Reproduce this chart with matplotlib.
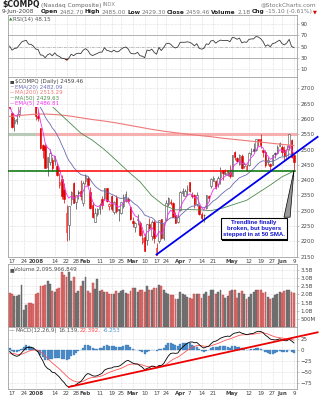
import numpy as np
import pandas as pd
import matplotlib
matplotlib.use("Agg")
import matplotlib.pyplot as plt
import matplotlib.patheffects as pe
from matplotlib.patches import Polygon

W, H = 322, 400

holidays = ["2007-12-25", "2008-01-01", "2008-01-21", "2008-02-18", "2008-03-21", "2008-05-26"]
dates = pd.bdate_range("2007-12-14", "2008-06-09", freq="C", holidays=holidays)

prior_close = 2668.49

opens = [2652, 2620, 2587, 2594, 2615, 2662, 2697, 2705, 2716, 2690, 2665,
         2653, 2611, 2571, 2514, 2512, 2443, 2459, 2466, 2462, 2447, 2384, 2405, 2368, 2230, 2252, 2338, 2391, 2330, 2360, 2366, 2325,
         2398, 2407, 2361, 2319, 2264, 2289, 2307, 2339, 2343, 2373, 2317, 2348, 2297, 2341, 2305, 2293, 2314, 2331, 2339, 2313,
         2268, 2247, 2270, 2260, 2198, 2214, 2206, 2258, 2218, 2263, 2155, 2202, 2272, 2211, 2269, 2321, 2330, 2326, 2286, 2262,
         2302, 2359, 2349, 2371, 2393, 2352, 2351, 2323, 2316, 2289, 2285, 2308, 2347, 2380, 2397, 2398, 2388, 2409, 2432, 2421, 2418, 2427,
         2415, 2493, 2471, 2454, 2478, 2447, 2432, 2450, 2494, 2502, 2499, 2535, 2535, 2497, 2492, 2458, 2452, 2449, 2488, 2489, 2513,
         2508, 2497, 2472, 2510, 2530, 2482.70]
highs = [2657, 2624, 2605, 2615, 2641, 2692, 2714, 2728, 2722, 2692, 2671,
         2661, 2626, 2571, 2519, 2521, 2475, 2503, 2475, 2479, 2456, 2424, 2418, 2390, 2320, 2317, 2366, 2394, 2350, 2367, 2402, 2398,
         2419, 2412, 2378, 2328, 2308, 2310, 2325, 2348, 2376, 2376, 2327, 2350, 2331, 2352, 2306, 2330, 2356, 2364, 2346, 2314,
         2280, 2263, 2289, 2267, 2236, 2225, 2256, 2276, 2270, 2270, 2195, 2269, 2273, 2260, 2335, 2345, 2338, 2330, 2296, 2291,
         2363, 2375, 2371, 2384, 2394, 2360, 2355, 2360, 2321, 2296, 2288, 2351, 2353, 2406, 2414, 2402, 2415, 2443, 2432, 2436, 2431, 2451,
         2481, 2496, 2475, 2487, 2485, 2460, 2452, 2492, 2505, 2522, 2534, 2536, 2551, 2500, 2500, 2475, 2456, 2487, 2491, 2514, 2524,
         2514, 2513, 2514, 2550, 2536, 2485.00]
lows = [2631, 2572, 2560, 2583, 2606, 2656, 2696, 2700, 2676, 2656, 2652,
        2597, 2592, 2502, 2471, 2439, 2413, 2450, 2430, 2450, 2413, 2376, 2338, 2325, 2202, 2203, 2318, 2324, 2306, 2338, 2335, 2317,
        2386, 2380, 2306, 2277, 2263, 2282, 2288, 2307, 2336, 2329, 2303, 2300, 2291, 2294, 2265, 2288, 2310, 2330, 2325, 2270,
        2248, 2232, 2254, 2219, 2193, 2169, 2189, 2239, 2205, 2196, 2155, 2196, 2209, 2205, 2268, 2317, 2318, 2280, 2260, 2261,
        2299, 2349, 2347, 2352, 2362, 2343, 2309, 2317, 2286, 2266, 2262, 2307, 2333, 2376, 2396, 2370, 2379, 2388, 2400, 2418, 2415, 2407,
        2413, 2466, 2460, 2449, 2436, 2439, 2430, 2447, 2483, 2492, 2494, 2512, 2505, 2477, 2443, 2448, 2432, 2448, 2473, 2486, 2510,
        2478, 2467, 2472, 2500, 2474, 2429.30]
closes = [2635.5, 2574.5, 2596.0, 2601.0, 2640.9, 2692.0, 2713.5, 2724.4, 2676.8, 2674.5, 2652.3,
          2609.6, 2602.7, 2504.7, 2499.5, 2440.5, 2474.6, 2488.5, 2439.9, 2478.3, 2417.6, 2394.6, 2346.9, 2340.0, 2292.3, 2316.4, 2360.9, 2326.2, 2349.9, 2358.1, 2349.0, 2389.9,
          2413.4, 2382.9, 2309.6, 2278.8, 2293.0, 2304.9, 2320.1, 2320.0, 2373.9, 2332.5, 2321.8, 2306.2, 2327.1, 2299.8, 2303.4, 2327.5, 2345.0, 2353.8, 2331.6, 2271.5,
          2258.6, 2260.3, 2272.8, 2220.5, 2212.5, 2169.3, 2255.8, 2243.9, 2263.6, 2212.5, 2177.0, 2268.3, 2210.0, 2258.1, 2326.8, 2341.1, 2324.4, 2280.8, 2261.2, 2279.1,
          2362.8, 2363.3, 2363.4, 2371.0, 2364.8, 2348.8, 2322.1, 2351.7, 2290.2, 2275.8, 2286.0, 2350.1, 2341.8, 2403.0, 2408.0, 2376.9, 2406.0, 2428.9, 2422.9, 2424.4, 2426.1, 2412.8,
          2480.7, 2476.9, 2464.1, 2483.3, 2438.5, 2451.2, 2445.5, 2488.5, 2495.1, 2496.7, 2533.7, 2528.9, 2516.1, 2492.3, 2448.3, 2464.6, 2444.7, 2481.2, 2486.7, 2508.3, 2522.7,
          2491.5, 2480.5, 2503.1, 2549.9, 2474.56, 2459.46]

# volume in billions of shares
volume = [2.10, 2.00, 1.90, 1.90, 1.95, 2.55, 1.05, 1.35, 1.45, 1.45, 1.40,
          2.00, 2.10, 2.50, 2.50, 2.55, 2.85, 2.65, 2.20, 2.15, 2.35, 2.40, 3.35, 3.20, 3.10, 3.35, 2.80, 3.05, 2.10, 2.20, 2.50, 2.80,
          3.05, 2.20, 2.10, 2.70, 2.35, 2.95, 2.20, 2.25, 2.15, 2.15, 2.05, 2.00, 2.05, 2.20, 2.10, 2.20, 2.25, 2.10, 2.00, 2.20,
          2.40, 2.40, 2.15, 2.25, 2.30, 2.15, 2.50, 2.30, 2.25, 2.40, 2.40, 2.60, 2.50, 2.30, 2.10, 2.00, 1.95, 1.95, 1.75, 1.75,
          2.15, 2.00, 1.95, 1.85, 1.80, 1.75, 2.05, 2.00, 2.05, 1.80, 2.00, 2.15, 1.90, 2.25, 2.25, 2.05, 2.15, 2.30, 1.95, 1.80, 1.90, 2.20,
          2.30, 2.25, 1.80, 2.10, 2.20, 2.05, 1.75, 1.85, 2.05, 2.15, 2.25, 2.30, 2.25, 2.10, 2.15, 1.85, 1.70, 1.80, 1.95, 2.05, 2.15,
          2.10, 2.20, 2.25, 2.25, 2.15, 2.095966849]

ema5 = [2645, 2621, 2613, 2609, 2620, 2644, 2667, 2686, 2683, 2680, 2671,
        2651, 2635, 2592, 2561, 2521, 2506, 2500, 2480, 2479, 2459, 2438, 2408, 2385, 2354, 2341, 2348, 2341, 2344, 2349, 2349, 2363,
        2380, 2381, 2357, 2331, 2318, 2314, 2316, 2317, 2336, 2335, 2331, 2323, 2324, 2316, 2312, 2317, 2326, 2335, 2334, 2313,
        2295, 2283, 2280, 2260, 2244, 2219, 2231, 2235, 2245, 2234, 2215, 2233, 2225, 2236, 2266, 2291, 2302, 2295, 2284, 2282,
        2309, 2327, 2339, 2350, 2355, 2353, 2343, 2346, 2327, 2310, 2302, 2318, 2326, 2352, 2371, 2373, 2384, 2399, 2407, 2413, 2417, 2416,
        2438, 2451, 2455, 2464, 2455, 2454, 2451, 2463, 2474, 2482, 2499, 2509, 2511, 2505, 2486, 2479, 2468, 2472, 2477, 2487, 2499,
        2497, 2491, 2495, 2513, 2500, 2486.81]
ema20 = [2657.6, 2649.6, 2644.5, 2640.4, 2640.5, 2645.4, 2651.9, 2658.8, 2660.5, 2661.8, 2660.9,
         2656.1, 2651.0, 2637.1, 2624.0, 2606.6, 2594.1, 2584.1, 2570.4, 2561.6, 2547.9, 2533.3, 2515.6, 2498.9, 2479.2, 2463.7, 2453.9, 2441.7, 2433.0, 2425.9, 2418.6, 2415.9,
         2415.6, 2412.5, 2402.7, 2390.9, 2381.6, 2374.3, 2369.1, 2364.4, 2365.3, 2362.2, 2358.4, 2353.4, 2350.9, 2346.1, 2342.0, 2340.6, 2341.0, 2342.2, 2341.2, 2334.5,
         2327.3, 2320.9, 2316.3, 2307.2, 2298.1, 2285.8, 2283.0, 2279.3, 2277.8, 2271.5, 2262.5, 2263.0, 2258.0, 2258.0, 2264.6, 2271.9, 2276.8, 2277.2, 2275.7, 2276.0,
         2284.3, 2291.8, 2298.6, 2305.5, 2311.2, 2314.8, 2315.5, 2319.0, 2316.2, 2312.4, 2309.9, 2313.7, 2316.4, 2324.6, 2332.5, 2336.7, 2343.3, 2351.5, 2358.3, 2364.6, 2370.4, 2374.5,
         2384.6, 2393.4, 2400.1, 2408.0, 2410.9, 2414.7, 2417.7, 2424.4, 2431.1, 2437.4, 2446.6, 2454.4, 2460.3, 2463.3, 2461.8, 2462.1, 2460.5, 2462.5, 2464.8, 2468.9, 2474.1,
         2475.8, 2476.2, 2478.7, 2485.5, 2484.5, 2482.09]

# simple averages, one reading every fifth session
ma_days = list(range(0, 121, 5))
ma50 = [2712, 2700, 2688, 2662, 2626, 2590, 2554, 2530, 2500, 2465, 2428.5, 2395, 2349,
        2318.5, 2303, 2304, 2303, 2300.5, 2309, 2321.7, 2334, 2359, 2384, 2411, 2429.63]
ma200 = [2608, 2612, 2615, 2616, 2614, 2610, 2604, 2598, 2593, 2587, 2580, 2573, 2566,
         2560, 2555, 2550, 2546, 2542, 2537, 2533, 2529, 2525, 2521, 2517, 2513.29]

rsi = [50.7, 43.7, 46.6, 47.3, 52.3, 57.9, 60.0, 61.0, 54.3, 53.9, 50.9,
       45.6, 44.8, 35.1, 34.6, 30.2, 35.4, 37.5, 33.5, 38.9, 34.2, 32.5, 29.3, 28.9, 26.0, 29.8, 36.4, 33.7, 37.1, 38.3, 37.4, 43.4,
       46.4, 43.2, 36.4, 34.0, 36.0, 37.8, 40.1, 40.1, 48.0, 43.3, 42.2, 40.4, 43.7, 40.6, 41.1, 45.1, 47.9, 49.3, 46.0, 38.4,
       37.1, 37.2, 39.8, 33.8, 32.9, 30.3, 43.9, 42.6, 45.5, 39.8, 36.4, 48.5, 42.9, 48.2, 54.8, 56.0, 54.1, 49.5, 47.5, 49.5,
       57.6, 57.6, 57.6, 58.4, 57.5, 55.1, 51.3, 55.1, 47.0, 45.4, 46.8, 54.8, 53.7, 60.2, 60.7, 56.1, 59.2, 61.5, 60.6, 60.7, 60.9, 58.5,
       66.2, 65.4, 62.9, 65.0, 56.6, 58.3, 57.4, 62.7, 63.5, 63.7, 68.0, 66.9, 63.8, 58.6, 50.4, 53.2, 49.7, 55.3, 56.2, 59.2, 61.3,
       55.1, 52.9, 56.5, 62.8, 50.3, 48.15]

macd = [-2.9, -9.2, -12.3, -14.2, -12.3, -6.6, -0.4, 5.4, 6.0, 6.2, 4.6,
        -0.1, -4.3, -15.4, -24.4, -35.8, -41.6, -44.6, -50.3, -51.2, -56.0, -61.0, -68.1, -73.4, -80.6, -83.4, -81.1, -81.1, -78.2, -74.5, -71.4, -64.9,
        -57.2, -53.0, -54.9, -58.2, -59.0, -58.0, -55.3, -52.6, -45.6, -42.8, -41.1, -40.6, -38.0, -37.7, -36.8, -33.8, -29.6, -25.2, -23.3, -26.4,
        -29.5, -31.4, -31.6, -35.5, -38.9, -44.5, -41.5, -39.6, -36.1, -37.0, -40.1, -34.8, -34.9, -30.8, -21.7, -13.2, -7.8, -6.8, -7.6, -6.7,
        0.8, 6.7, 11.3, 15.3, 17.8, 18.3, 16.3, 17.0, 12.4, 7.5, 4.4, 7.0, 8.4, 14.2, 18.9, 20.0, 22.9, 26.7, 28.9, 30.4, 31.4, 30.8,
        35.4, 38.3, 39.1, 40.8, 38.0, 36.5, 34.5, 35.9, 37.1, 37.8, 40.8, 42.3, 41.9, 39.3, 33.3, 29.6, 24.7, 23.5, 22.7, 23.6, 25.2,
        23.7, 21.3, 20.9, 24.2, 20.5, 16.139]
signal = [-7.0, -7.4, -8.4, -9.6, -10.1, -9.4, -7.6, -5.0, -2.8, -1.0, 0.1,
          0.1, -0.8, -3.7, -7.8, -13.4, -19.0, -24.1, -29.3, -33.7, -38.2, -42.8, -47.9, -53.0, -58.5, -63.5, -67.0, -69.8, -71.5, -72.1, -72.0, -70.6,
          -67.9, -64.9, -62.9, -62.0, -61.4, -60.7, -59.6, -58.2, -55.7, -53.1, -50.7, -48.7, -46.6, -44.8, -43.2, -41.3, -39.0, -36.2, -33.6, -32.2,
          -31.7, -31.6, -31.6, -32.4, -33.7, -35.9, -37.0, -37.5, -37.2, -37.2, -37.8, -37.2, -36.7, -35.5, -32.7, -28.8, -24.6, -21.0, -18.3, -16.0,
          -12.6, -8.7, -4.7, -0.7, 3.0, 6.1, 8.1, 9.9, 10.4, 9.8, 8.7, 8.4, 8.4, 9.6, 11.5, 13.2, 15.1, 17.4, 19.7, 21.8, 23.7, 25.1,
          27.2, 29.4, 31.3, 33.2, 34.2, 34.7, 34.7, 34.9, 35.3, 35.8, 36.8, 37.9, 38.7, 38.8, 37.7, 36.1, 33.8, 31.7, 29.9, 28.6, 27.9,
          27.1, 25.9, 24.9, 24.8, 23.9, 22.392]

ticks = [("2007-12-17", "17"), ("2007-12-24", "24"), ("2008-01-02", "2008"), ("2008-01-14", "14"),
         ("2008-01-22", "22"), ("2008-01-28", "28"), ("2008-02-01", "Feb"), ("2008-02-11", "11"),
         ("2008-02-19", "19"), ("2008-02-25", "25"), ("2008-03-03", "Mar"), ("2008-03-10", "10"),
         ("2008-03-17", "17"), ("2008-03-24", "24"), ("2008-04-01", "Apr"), ("2008-04-07", "7"),
         ("2008-04-14", "14"), ("2008-04-21", "21"), ("2008-05-01", "May"), ("2008-05-12", "12"),
         ("2008-05-19", "19"), ("2008-05-27", "27"), ("2008-06-02", "Jun"), ("2008-06-09", "9")]
month_labels = {"2008", "Feb", "Mar", "Apr", "May", "Jun"}

o = np.array(opens, float)
h = np.array(highs, float)
l = np.array(lows, float)
c = np.array(closes, float)
x = np.arange(len(dates))
day_of = {d.strftime("%Y-%m-%d"): i for i, d in enumerate(dates)}
tick_pos = [day_of[d] for d, _ in ticks]
tick_lab = [t for _, t in ticks]

RED = "#e00000"
UPC = "#444444"

fig = plt.figure(figsize=(W / 100, H / 100), dpi=100)
fig.patch.set_facecolor("white")


def panel(top, bottom, xlabels=False):
    ax = fig.add_axes([8 / W, 1 - bottom / H, 289 / W, (bottom - top) / H])
    ax.set_xlim(-0.7, len(x) + 0.3)
    for sp in ax.spines.values():
        sp.set_color("#a0a0a0")
        sp.set_linewidth(0.6)
    ax.yaxis.tick_right()
    ax.tick_params(axis="y", labelsize=4, colors="#a0a0a0", labelcolor="#444444",
                   length=1.5, width=0.4, pad=1)
    ax.tick_params(axis="x", labelsize=4, labelcolor="#444444", length=0, pad=1.5)
    ax.set_xticks(tick_pos)
    if xlabels:
        ax.set_xticklabels(tick_lab)
        for t in ax.get_xticklabels():
            if t.get_text() in month_labels:
                t.set_fontweight("bold")
    else:
        ax.set_xticklabels([])
    ax.grid(True, color="#c4c4c4", linestyle=(0, (1, 1.5)), linewidth=0.4)
    ax.set_axisbelow(True)
    return ax


def px_text(px, py, txt, **kw):
    return fig.text(px / W, 1 - py / H, txt, va="center", **kw)


def chain(px, py, parts, gap=1.2):
    rend = fig.canvas.get_renderer()
    for txt, kw in parts:
        t = px_text(px, py, txt, ha="left", **kw)
        px += t.get_window_extent(renderer=rend).width + gap


# header
chain(2, 5, [("$COMPQ", dict(fontsize=5.6, fontweight="bold", color="#222222")),
             ("(Nasdaq Composite)", dict(fontsize=4.2, color="#666666")),
             ("INDX", dict(fontsize=3.8, color="#888888"))])
px_text(316, 5, "@StockCharts.com", ha="right", fontsize=4.2, color="#777777")
chg = c[-1] - c[-2]
chain(2, 12, [(dates[-1].strftime("%-d-%b-%Y"), dict(fontsize=4.2, color="#444444")),
              ("  ", dict(fontsize=4.2)),
              ("Open", dict(fontsize=4.2, fontweight="bold", color="#222222")),
              (f"{o[-1]:.2f}", dict(fontsize=4.2, color="#777777")),
              ("High", dict(fontsize=4.2, fontweight="bold", color="#222222")),
              (f"{h[-1]:.2f}", dict(fontsize=4.2, color="#777777")),
              ("Low", dict(fontsize=4.2, fontweight="bold", color="#222222")),
              (f"{l[-1]:.2f}", dict(fontsize=4.2, color="#777777")),
              ("Close", dict(fontsize=4.2, fontweight="bold", color="#222222")),
              (f"{c[-1]:.2f}", dict(fontsize=4.2, color="#777777")),
              ("Volume", dict(fontsize=4.2, fontweight="bold", color="#222222")),
              (f"{volume[-1]:.1f}B", dict(fontsize=4.2, color="#777777")),
              ("Chg", dict(fontsize=4.2, fontweight="bold", color="#222222")),
              (f"{chg:.2f} ({chg / c[-2] * 100:.2f}%)", dict(fontsize=4.2, color="#777777")),
              ("▼", dict(fontsize=3.6, color=RED))])

# RSI panel
ax_r = panel(15, 77)
r = np.array(rsi)
ax_r.set_ylim(-4, 106)
ax_r.set_yticks([10, 30, 50, 70, 90])
ax_r.axhline(70, color="#a8a8a8", lw=0.6)
ax_r.axhline(30, color="#a8a8a8", lw=0.6)
ax_r.axhline(50, color="#a8a8a8", lw=0.5, ls=(0, (4, 1.5, 1, 1.5)))
ax_r.fill_between(x, r, 30, where=r < 30, interpolate=True, color=RED, lw=0)
ax_r.plot(x, r, color="#3a3a3a", lw=0.6)
ax_r.text(0.004, 0.955, "▲", transform=ax_r.transAxes, fontsize=3.2, color="#2e8b2e", va="top")
ax_r.text(0.018, 0.96, f"RSI(14) {rsi[-1]:.2f}", transform=ax_r.transAxes, fontsize=4,
          color="#555555", va="top")

# price panel
ax_p = panel(77, 257, xlabels=True)
ax_p.set_ylim(2149, 2737)
ax_p.set_yticks(np.arange(2150, 2701, 50))
ax_p.axhline(2550, xmin=0, xmax=12.4 / 122, color="#b8cbb8", lw=2.2, zorder=2)
ax_p.axhline(2550, xmin=12.4 / 122, xmax=1, color="#f6b0b0", lw=2.2, zorder=2)

prev = np.r_[prior_close, c[:-1]]
edge = np.where(c >= prev, UPC, RED)
face = np.where(c < o, edge, "white")
lo_b = np.minimum(o, c)
hi_b = np.maximum(o, c)
ax_p.vlines(x, l, h, colors=edge, lw=0.5, zorder=3)
ax_p.bar(x, np.maximum(hi_b - lo_b, 1.0), bottom=lo_b, width=0.62, color=face,
         edgecolor=edge, linewidth=0.4, zorder=4)

ax_p.plot(ma_days, ma200, color="#f07878", lw=0.8, zorder=5)
ax_p.plot(ma_days, ma50, color="#4e8a4e", lw=0.6, zorder=5)
ax_p.plot(x, ema20, color="#6b6bb0", lw=0.6, zorder=5)
ax_p.plot(x, ema5, color="#f030f0", lw=0.6, zorder=5)

# support at the 50-day average and the broken trendline
ax_p.plot([-0.7, 21], [2430, 2430], color="#007000", lw=1.1, zorder=6)
ax_p.plot([21, 92], [2430, 2430], color="#ff0000", lw=1.1, zorder=6)
ax_p.plot([92, 120.6], [2430, 2430], color="#007000", lw=1.1, zorder=6)
ax_p.plot([62, 130], [2157, 2541.5], color="#0000ee", lw=1.3, zorder=6, clip_on=False)

ax_p.add_patch(Polygon([(115.8, 2279), (118.4, 2279), (120, 2431)], closed=True,
                       facecolor="#999999", edgecolor="black", lw=0.5, zorder=7))
note = ax_p.text(103.2, 2241, "Trendline finally\nbroken, but buyers\nstepped in at 50 SMA.",
                 ha="center", va="center", fontsize=4.3, fontweight="bold", color="#1010d0",
                 family="Liberation Sans", linespacing=1.25, zorder=8,
                 bbox=dict(boxstyle="square,pad=0.35", facecolor="white", edgecolor="black", lw=0.8))
note.get_bbox_patch().set_path_effects([pe.SimplePatchShadow(offset=(0.9, -0.9), shadow_rgbFace="black",
                                                             alpha=1.0), pe.Normal()])

legend = [("■", f"$COMPQ (Daily) {c[-1]:.2f}", "#444444"),
          ("—", f"EMA(20) {ema20[-1]:.2f}", "#6b6bb0"),
          ("—", f"MA(200) {ma200[-1]:.2f}", "#f07878"),
          ("—", f"MA(50) {ma50[-1]:.2f}", "#4e8a4e"),
          ("—", f"EMA(5) {ema5[-1]:.2f}", "#f030f0")]
for k, (mark, lab, col) in enumerate(legend):
    yy = 1 - (4.5 + 5.6 * k) / 180
    ax_p.text(0.006, yy, mark, transform=ax_p.transAxes, fontsize=3.6, color=col, va="center",
              zorder=9, bbox=dict(facecolor="white", edgecolor="none", pad=0.4))
    ax_p.text(0.024, yy, lab, transform=ax_p.transAxes, fontsize=4, color=col, va="center",
              zorder=9, bbox=dict(facecolor="white", edgecolor="none", pad=0.4))

# volume panel
ax_v = panel(264, 327)
v = np.array(volume)
ax_v.set_ylim(0, 3.87)
ax_v.set_yticks([0.5, 1.0, 1.5, 2.0, 2.5, 3.0, 3.5])
ax_v.set_yticklabels(["500M", "1.0B", "1.5B", "2.0B", "2.5B", "3.0B", "3.5B"])
down = c < prev
ax_v.bar(x, v, width=0.8, color=np.where(down, "#dc7070", "#777777"),
         edgecolor=np.where(down, "#b84040", "#5a5a5a"), linewidth=0.3, zorder=3)
ax_v.text(0.004, 0.955, "■", transform=ax_v.transAxes, fontsize=3.6, color="#555555", va="top")
ax_v.text(0.022, 0.96, f"Volume {int(round(volume[-1] * 1e9)):,}", transform=ax_v.transAxes,
          fontsize=4, color="#555555", va="top")

# MACD panel
ax_m = panel(327, 389, xlabels=True)
m = np.array(macd)
s = np.array(signal)
ax_m.set_ylim(-88, 52)
ax_m.set_yticks([-75, -50, -25, 0, 25])
ax_m.bar(x, m - s, width=0.85, color="#4f8fcc", edgecolor="#2f6fac", linewidth=0.2, zorder=3)
ax_m.plot(x, s, color="#ff5555", lw=0.6, zorder=4)
ax_m.plot(x, m, color="black", lw=0.6, zorder=5)
ax_m.plot([25, 130], [-83.4, 40], color="#ee0000", lw=1.3, zorder=6, clip_on=False)

chain(8.5, 330.5, [("—", dict(fontsize=4, color="#555555")),
                   ("MACD(12,26,9)", dict(fontsize=4, color="#555555")),
                   (f"{macd[-1]:.3f},", dict(fontsize=4, color="#555555")),
                   (f"{signal[-1]:.3f},", dict(fontsize=4, color="#ff4444")),
                   (f"{macd[-1] - signal[-1]:.3f}", dict(fontsize=4, color="#4f8fcc"))])

fig.savefig("out.png", dpi=100)
